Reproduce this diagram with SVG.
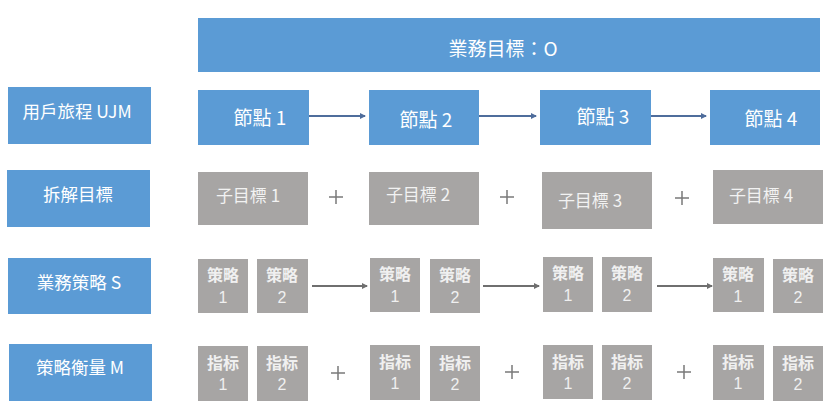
<svg xmlns="http://www.w3.org/2000/svg" width="833" height="410" viewBox="0 0 833 410">
<defs>
<style>
.b{fill:#5b9bd5}
.g{fill:#a7a5a4}
.tw{fill:#ffffff;font-family:"Noto Sans CJK TC","Noto Sans CJK SC",sans-serif;font-size:17.5px;text-anchor:middle}
.tn1{fill:#ffffff;font-family:"Noto Sans CJK TC","Noto Sans CJK SC",sans-serif;font-size:19px;text-anchor:middle}
.tg{fill:#f2f2f2;font-family:"Noto Sans CJK TC","Noto Sans CJK SC",sans-serif;font-size:17px;text-anchor:middle}
.ts{fill:#f0f0f0;font-family:"Noto Sans CJK SC","Noto Sans CJK TC",sans-serif;font-size:16px;font-weight:bold;text-anchor:middle}
.tn{fill:#f0f0f0;font-family:"Liberation Sans",sans-serif;font-size:16px;text-anchor:middle}
.ab{stroke:#4f6d9c;stroke-width:2;fill:none}
.ag{stroke:#6f6f6f;stroke-width:2;fill:none}
.plus{stroke:#7a7a7a;stroke-width:1.5;fill:none}
</style>
<marker id="mb" markerWidth="6" markerHeight="6" refX="5" refY="3" orient="auto" markerUnits="userSpaceOnUse"><path d="M0,0 L6,3 L0,6 Z" fill="#4f6d9c"/></marker>
<marker id="mg" markerWidth="6" markerHeight="6" refX="5" refY="3" orient="auto" markerUnits="userSpaceOnUse"><path d="M0,0 L6,3 L0,6 Z" fill="#6f6f6f"/></marker>
</defs>

<g id="goal"><rect class="b" x="198" y="18" width="622" height="54"/><text class="tn1" x="503" y="56">業務目標：O</text></g>

<g id="label-ujm"><rect class="b" x="8" y="87" width="143" height="57"/><text class="tw" x="77" y="118">用戶旅程 UJM</text></g>
<g id="label-split"><rect class="b" x="7" y="170" width="143" height="57"/><text class="tw" x="78" y="201">拆解目標</text></g>
<g id="label-s"><rect class="b" x="8" y="258" width="143" height="56"/><text class="tw" x="79" y="289">業務策略 S</text></g>
<g id="label-m"><rect class="b" x="9" y="344" width="143" height="57"/><text class="tw" x="80" y="374">策略衡量 M</text></g>

<g id="node1"><rect class="b" x="198" y="90" width="111" height="55"/><text class="tn1" x="260" y="125">節點 1</text></g>
<g id="node2"><rect class="b" x="369" y="90" width="110" height="55"/><text class="tn1" x="426" y="127">節點 2</text></g>
<g id="node3"><rect class="b" x="540" y="90" width="111" height="55"/><text class="tn1" x="603" y="124">節點 3</text></g>
<g id="node4"><rect class="b" x="710" y="90" width="110" height="55"/><text class="tn1" x="771" y="126">節點 4</text></g>

<g id="sub1"><rect class="g" x="198" y="172" width="110" height="53"/><text class="tg" x="248" y="202">子目標 1</text></g>
<g id="sub2"><rect class="g" x="369" y="172" width="110" height="53"/><text class="tg" x="418" y="201">子目標 2</text></g>
<g id="sub3"><rect class="g" x="542" y="172" width="110" height="57"/><text class="tg" x="590" y="207">子目標 3</text></g>
<g id="sub4"><rect class="g" x="713" y="170" width="110" height="54"/><text class="tg" x="761" y="202">子目標 4</text></g>

<g id="s1a"><rect class="g" x="198" y="259" width="50" height="54"/><text class="ts" x="223" y="281">策略</text><text class="tn" x="223" y="303">1</text></g>
<g id="s1b"><rect class="g" x="257" y="259" width="51" height="54"/><text class="ts" x="282" y="281">策略</text><text class="tn" x="282" y="303">2</text></g>
<g id="s2a"><rect class="g" x="370" y="258" width="50" height="54"/><text class="ts" x="395" y="280">策略</text><text class="tn" x="395" y="302">1</text></g>
<g id="s2b"><rect class="g" x="430" y="259" width="50" height="54"/><text class="ts" x="455" y="281">策略</text><text class="tn" x="455" y="303">2</text></g>
<g id="s3a"><rect class="g" x="543" y="257" width="50" height="55"/><text class="ts" x="568" y="279">策略</text><text class="tn" x="568" y="301">1</text></g>
<g id="s3b"><rect class="g" x="602" y="257" width="50" height="55"/><text class="ts" x="627" y="279">策略</text><text class="tn" x="627" y="301">2</text></g>
<g id="s4a"><rect class="g" x="713" y="258" width="51" height="54"/><text class="ts" x="738" y="280">策略</text><text class="tn" x="738" y="302">1</text></g>
<g id="s4b"><rect class="g" x="773" y="259" width="50" height="54"/><text class="ts" x="798" y="281">策略</text><text class="tn" x="798" y="303">2</text></g>

<g id="m1a"><rect class="g" x="198" y="346" width="50" height="55"/><text class="ts" x="223" y="369">指标</text><text class="tn" x="223" y="390">1</text></g>
<g id="m1b"><rect class="g" x="257" y="346" width="51" height="55"/><text class="ts" x="282" y="369">指标</text><text class="tn" x="282" y="390">2</text></g>
<g id="m2a"><rect class="g" x="370" y="345" width="50" height="55"/><text class="ts" x="395" y="368">指标</text><text class="tn" x="395" y="389">1</text></g>
<g id="m2b"><rect class="g" x="430" y="346" width="50" height="55"/><text class="ts" x="455" y="369">指标</text><text class="tn" x="455" y="390">2</text></g>
<g id="m3a"><rect class="g" x="543" y="345" width="50" height="54"/><text class="ts" x="568" y="368">指标</text><text class="tn" x="568" y="389">1</text></g>
<g id="m3b"><rect class="g" x="602" y="345" width="50" height="55"/><text class="ts" x="627" y="368">指标</text><text class="tn" x="627" y="389">2</text></g>
<g id="m4a"><rect class="g" x="713" y="345" width="51" height="55"/><text class="ts" x="738" y="368">指标</text><text class="tn" x="738" y="389">1</text></g>
<g id="m4b"><rect class="g" x="773" y="346" width="50" height="55"/><text class="ts" x="798" y="369">指标</text><text class="tn" x="798" y="390">2</text></g>

<g id="connectors">
<line class="ab" x1="309" y1="116" x2="365" y2="116" marker-end="url(#mb)"/>
<line class="ab" x1="479" y1="116" x2="536" y2="116" marker-end="url(#mb)"/>
<line class="ab" x1="651" y1="116" x2="706" y2="116" marker-end="url(#mb)"/>
<line class="ag" x1="312" y1="286" x2="367" y2="286" marker-end="url(#mg)"/>
<line class="ag" x1="483" y1="286" x2="539" y2="286" marker-end="url(#mg)"/>
<line class="ag" x1="657" y1="286" x2="712" y2="286" marker-end="url(#mg)"/>
<path class="plus" d="M329,197 h14 M336,190 v14"/>
<path class="plus" d="M500,197 h14 M507,190 v14"/>
<path class="plus" d="M675,198 h14 M682,191 v14"/>
<path class="plus" d="M331,373 h14 M338,366 v14"/>
<path class="plus" d="M505,372 h14 M512,365 v14"/>
<path class="plus" d="M677,372 h14 M684,365 v14"/>
</g>
</svg>
